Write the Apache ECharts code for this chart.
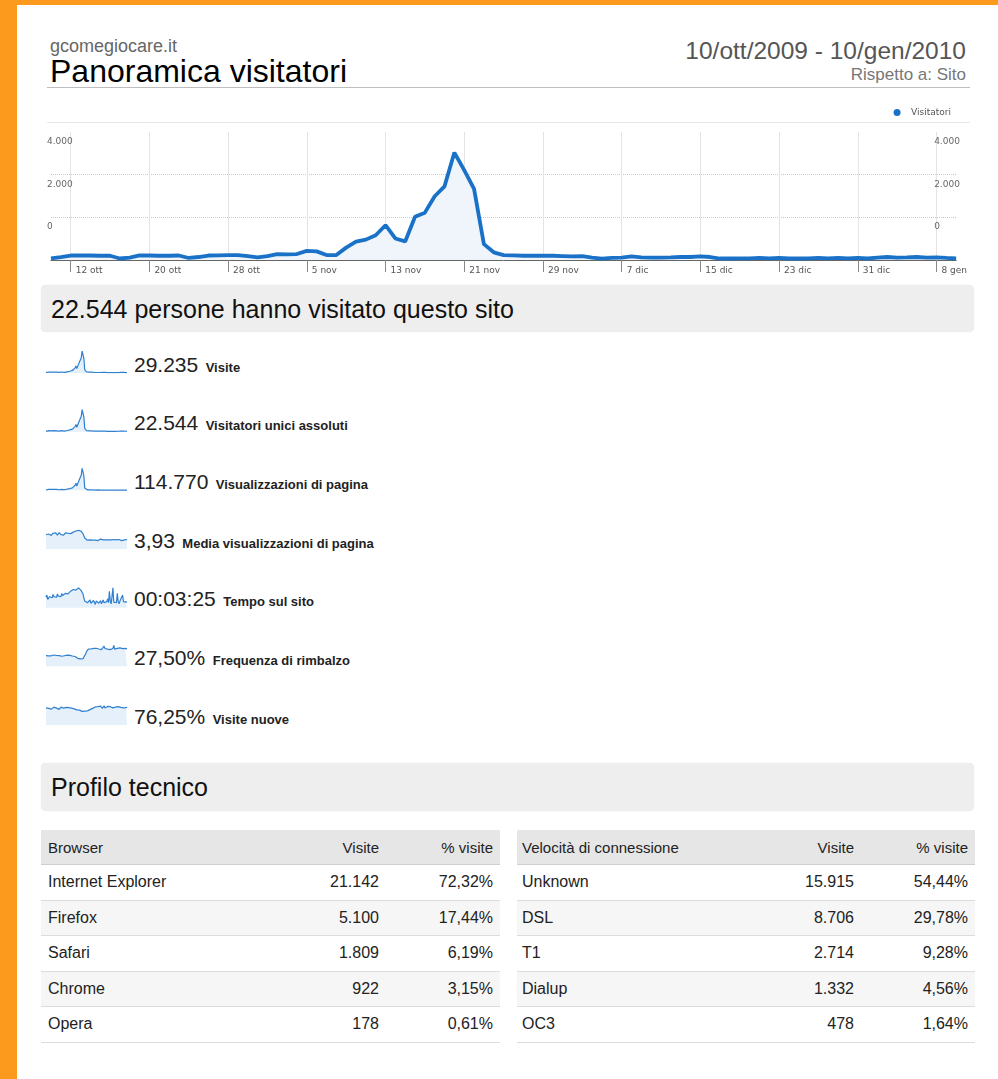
<!DOCTYPE html>
<html>
<head>
<meta charset="utf-8">
<title>Panoramica visitatori</title>
<script src="https://cdn.jsdelivr.net/npm/echarts@6/dist/echarts.min.js"></script>
<style>
  html, body { margin: 0; padding: 0; background: #fff; }
  body { width: 998px; height: 1079px; position: relative; overflow: hidden;
         font-family: "Liberation Sans", Arial, sans-serif; color: #222; }
  .abs { position: absolute; white-space: nowrap; z-index: 2; }
  .frameL { position: absolute; left: 0; top: 0; width: 17px; height: 1079px; background: #fb9a1c; }
  .frameT { position: absolute; left: 0; top: 0; width: 998px; height: 5px; background: #fb9a1c; }
  .bar { position: absolute; left: 41px; width: 933px; background: #eeeeee; border-radius: 5px;
         box-shadow: 0 0 1px #d8d8d8; z-index: 1; }
  .barText { position: absolute; left: 10px; font-size: 25px; line-height: 25px; color: #111; }
  .metric { position: absolute; left: 134px; line-height: 21px; white-space: nowrap; z-index: 2; }
  .metric .num { font-size: 21px; color: #222; }
  .metric .lab { font-size: 13px; font-weight: bold; color: #222; margin-left: 3px; }
  .tbl { position: absolute; top: 830px; z-index: 2; font-size: 16px; color: #222; }
  .row { position: relative; height: 35.5px; border-bottom: 1px solid #dcdcdc; box-sizing: border-box; }
  .row.head { height: 35px; background: #e6e6e6; border-bottom: 1px solid #cfcfcf; font-size: 15px; }
  .row.alt { background: #f6f6f6; }
  .row span { position: absolute; top: 50%; transform: translateY(-50%); }
  #main { position: absolute; left: 0; top: 0; width: 970px; height: 290px; z-index: 3; }
  #sparks { position: absolute; left: 0; top: 340px; width: 140px; height: 400px; z-index: 3; }
</style>
</head>
<body>
<div class="frameL"></div>
<div class="frameT"></div>

<div class="abs" style="left:50px; top:37px; font-size:18px; line-height:18px; color:#666;">gcomegiocare.it</div>
<div class="abs" style="left:50px; top:55px; font-size:32px; line-height:32px; color:#000;">Panoramica visitatori</div>
<div class="abs" style="right:32px; top:38px; font-size:24.5px; line-height:25px; color:#555;">10/ott/2009 - 10/gen/2010</div>
<div class="abs" style="right:32px; top:66px; font-size:17px; line-height:17px; color:#777;">Rispetto a: Sito</div>
<div class="abs" style="left:47px; top:87px; width:923px; height:0; border-top:1px solid #bdbdbd;"></div>
<div class="abs" style="left:47px; top:122px; width:923px; height:0; border-top:1px solid #e8e8e8;"></div>

<div class="bar" style="top:285px; height:47px;"><div class="barText" style="top:12px;">22.544 persone hanno visitato questo sito</div></div>
<div class="bar" style="top:763px; height:48px;"><div class="barText" style="top:12px;">Profilo tecnico</div></div>

<div id="metrics"></div>
<div id="tables"></div>

<div id="main"></div>
<div id="sparks"></div>

<script type="text/javascript">
// --- dati ---
var xTickLabels = ['12 ott', '20 ott', '28 ott', '5 nov', '13 nov', '21 nov', '29 nov', '7 dic', '15 dic', '23 dic', '31 dic', '8 gen'];
var yTickLabels = ['', '0', '2.000', '4.000'];   // etichette mostrate sulle righe 0 / 2000 / 4000 / 6000

// visitatori giornalieri 10 ott 2009 - 10 gen 2010
var visitatori = [80, 140, 210, 220, 210, 200, 200, 70, 115, 220,
    210, 200, 200, 210, 95, 140, 210, 220, 230, 230,
    185, 125, 185, 280, 265, 280, 430, 405, 230, 230,
    580, 860, 955, 1160, 1630, 1010, 870, 2030, 2220, 2990,
    3455, 5035, 4210, 3335, 745, 360, 230, 220, 200, 200,
    200, 200, 185, 170, 185, 115, 60, 95, 115, 165,
    125, 115, 115, 125, 140, 140, 170, 140, 70, 70,
    80, 80, 95, 80, 95, 70, 70, 80, 95, 80,
    95, 80, 95, 70, 115, 140, 115, 125, 140, 115,
    125, 95, 70];

var visite = [110, 180, 270, 290, 280, 260, 250, 95, 150, 290,
    280, 265, 260, 275, 125, 185, 275, 290, 300, 305,
    240, 165, 245, 370, 350, 365, 560, 530, 300, 300,
    760, 1120, 1240, 1510, 2120, 1320, 1140, 2640, 2890, 3890,
    4490, 6550, 5470, 4340, 970, 470, 300, 285, 260, 260,
    260, 260, 240, 220, 240, 150, 80, 125, 150, 215,
    165, 150, 150, 165, 180, 180, 220, 180, 90, 90,
    105, 105, 125, 105, 125, 90, 90, 105, 125, 105,
    125, 105, 125, 90, 150, 180, 150, 165, 180, 150,
    165, 125, 90];

var pagine = [520, 860, 1300, 1380, 1290, 1240, 1220, 430, 700, 1350,
    1310, 1250, 1230, 1300, 590, 870, 1300, 1360, 1410, 1400,
    1140, 780, 1150, 1720, 1620, 1730, 2650, 2490, 1410, 1420,
    3550, 5300, 5900, 7150, 10000, 6200, 5350, 12500, 13700, 18400,
    21300, 31000, 25900, 20500, 3200, 1300, 760, 720, 660, 660,
    660, 650, 610, 560, 600, 380, 200, 310, 380, 540,
    410, 380, 380, 410, 460, 460, 560, 460, 230, 230,
    260, 260, 310, 260, 310, 230, 230, 260, 310, 260,
    310, 260, 310, 230, 380, 460, 380, 410, 460, 380,
    410, 310, 230];

var mediaPagine = [3.9, 4.2, 3.8, 4.1, 4.4, 3.9, 3.7, 4.0, 4.3, 3.8,
    4.1, 4.4, 4.0, 3.8, 4.2, 4.5, 4.1, 3.9, 4.3, 4.0,
    3.8, 4.2, 4.4, 4.1, 4.5, 4.3, 4.6, 4.4, 4.2,
    4.5, 4.7, 4.6, 4.8, 4.7, 4.9, 5.0, 4.8, 5.1, 4.9, 5.0, 4.8, 4.6, 4.2,
    3.6, 3.0, 2.6, 2.5, 2.4, 2.5,
    2.4, 2.5, 2.3, 2.6, 2.4, 2.5, 2.3, 2.4, 2.6, 2.5,
    2.3, 2.4, 2.5, 2.7, 2.4, 2.3, 2.5, 2.4, 2.6, 2.5,
    2.4, 2.3, 2.5, 2.6, 2.4, 2.5, 2.3, 2.4, 2.6, 2.5,
    2.4, 2.5, 2.3, 2.4, 2.6, 2.5, 2.4, 2.3, 2.5, 2.6,
    2.5, 2.7, 2.8, 2.6];

var tempoSito = [190, 230, 150, 120, 200, 170, 210, 180, 240, 200,
    170, 220, 190, 250, 210, 180, 230, 200, 260, 220,
    240, 210, 260, 230, 270, 250, 280, 260, 300,
    310, 290, 330, 300, 340, 320, 350, 330, 360, 340, 330, 310, 290,
    250, 180, 120, 100, 110, 90,
    120, 90, 140, 80, 110, 70, 130, 100, 60, 120,
    90, 150, 80, 110, 130, 70, 100, 140, 90, 120,
    80, 110, 160, 90, 300, 120, 70, 200, 360, 100,
    80, 130, 90, 260, 110, 70, 120, 150, 90, 230,
    110, 80, 130, 100, 110];

var rimbalzo = [19.5, 18.2, 20.1, 19.0, 18.6, 20.4, 19.2, 18.0, 19.8, 20.6,
    19.1, 18.4, 19.7, 20.2, 18.8, 19.4, 20.8, 19.0, 18.3, 19.9,
    20.5, 19.3, 18.7, 19.6, 20.3, 18.9, 19.2, 20.0, 18.5, 19.4,
    18.8, 19.5, 18.2, 17.9, 17.2,
    15.8, 14.6, 13.9, 14.2, 13.5, 13.8, 14.4, 14.0, 13.7,
    16.2, 22.5, 26.8, 29.5, 31.2, 30.4, 32.0,
    31.5, 33.2, 30.8, 32.6, 34.1, 31.0, 32.9, 30.2, 33.8, 31.6,
    35.0, 32.1, 30.5, 33.4, 31.9, 36.8, 32.4, 30.9, 33.1, 31.3,
    34.6, 32.0, 30.4, 33.7, 31.8, 32.5, 37.9, 31.2, 33.0, 30.6,
    32.8, 34.3, 31.4, 33.6, 30.8, 35.4, 32.2, 31.0, 33.9, 32.6,
    30.9, 31.8];

var visiteNuove = [70, 66, 72, 68, 74, 69, 65, 71, 67, 73,
    70, 66, 69, 72, 68, 64, 70, 73, 67, 71,
    69, 65, 68, 72, 70, 66, 71, 68, 64, 69,
    67, 70, 66, 63, 65,
    62, 60, 58, 61, 57, 59, 56, 58, 55, 57, 60, 56, 58, 61, 59, 63, 60, 64,
    68, 72, 66, 74, 70, 67, 75, 71, 69, 77,
    72, 68, 74, 79, 70, 73, 67, 76, 71, 69,
    75, 72, 78, 70, 74, 68, 73, 77, 71, 75,
    69, 76, 72, 74, 79, 70, 73, 76, 71, 74];

var metricValues = ['29.235', '22.544', '114.770', '3,93', '00:03:25', '27,50%', '76,25%'];
var metricLabels = ['Visite', 'Visitatori unici assoluti', 'Visualizzazioni di pagina',
    'Media visualizzazioni di pagina', 'Tempo sul sito', 'Frequenza di rimbalzo', 'Visite nuove'];

var browsers = ['Internet Explorer', 'Firefox', 'Safari', 'Chrome', 'Opera'];
var browserVisite = ['21.142', '5.100', '1.809', '922', '178'];
var browserPerc = ['72,32%', '17,44%', '6,19%', '3,15%', '0,61%'];

var connessioni = ['Unknown', 'DSL', 'T1', 'Dialup', 'OC3'];
var connVisite = ['15.915', '8.706', '2.714', '1.332', '478'];
var connPerc = ['54,44%', '29,78%', '9,28%', '4,56%', '1,64%'];

// categorie giornaliere
var mesi = [['ott', 10, 31], ['nov', 1, 30], ['dic', 1, 31], ['gen', 1, 10]];
var giorni = [];
mesi.forEach(function (m) {
    for (var d = m[1]; d <= m[2]; d++) giorni.push(d + ' ' + m[0]);
});

// --- righe delle metriche ---
var metricsHtml = '';
for (var i = 0; i < metricValues.length; i++) {
    var c = 364 + i * 58.67;
    metricsHtml += '<div class="metric" style="top:' + (c - 10.5) + 'px"><span class="num">' + metricValues[i] +
        '</span> <span class="lab">' + metricLabels[i] + '</span></div>';
}
document.getElementById('metrics').innerHTML = metricsHtml;

// --- tabelle ---
function tabella(left, width, padL, titolo, nomi, vis, perc) {
    var h = '<div class="tbl" style="left:' + left + 'px; width:' + width + 'px">';
    h += '<div class="row head"><span style="left:' + padL + 'px">' + titolo + '</span>' +
        '<span style="right:121px">Visite</span><span style="right:7px">% visite</span></div>';
    for (var k = 0; k < nomi.length; k++) {
        h += '<div class="row' + (k % 2 ? ' alt' : '') + '"><span style="left:' + padL + 'px">' + nomi[k] + '</span>' +
            '<span style="right:121px">' + vis[k] + '</span><span style="right:7px">' + perc[k] + '</span></div>';
    }
    return h + '</div>';
}
document.getElementById('tables').innerHTML =
    tabella(41, 459, 7, 'Browser', browsers, browserVisite, browserPerc) +
    tabella(517, 458, 5, 'Velocità di connessione', connessioni, connVisite, connPerc);

// --- grafico principale ---
var tickOk = function (idx) { return (idx - 2) % 8 === 0; };
var chartFont = 'DejaVu Sans';

var myChart = echarts.init(document.getElementById('main'));
myChart.setOption({
    animation: false,
    legend: {
        data: ['Visitatori'],
        right: 19,
        top: 108,
        padding: 0,
        icon: 'circle',
        itemWidth: 18,
        itemHeight: 7,
        textStyle: { fontFamily: chartFont, fontSize: 9, color: '#555' }
    },
    grid: { left: 51, top: 132, width: 915, height: 128, containLabel: false },
    xAxis: {
        type: 'category',
        data: giorni,
        boundaryGap: false,
        axisLine: { lineStyle: { color: '#666', width: 1 } },
        axisTick: { show: true, interval: tickOk, length: 12, lineStyle: { color: '#888' } },
        axisLabel: { interval: tickOk, align: 'left', margin: 6, padding: [0, 0, 0, 5],
            fontFamily: chartFont, fontSize: 9, color: '#555',
            formatter: function (v, idx) { return xTickLabels[(idx - 2) / 8]; } },
        splitLine: { show: true, interval: tickOk, lineStyle: { color: '#e4e4e4' } }
    },
    yAxis: [{
        type: 'value', min: 0, max: 6000, interval: 2000,
        axisLine: { show: false }, axisTick: { show: false },
        axisLabel: { inside: true, align: 'left', margin: -4, verticalAlign: 'top', padding: [5, 0, 0, 0],
            fontFamily: chartFont, fontSize: 9, color: '#666',
            formatter: function (v) { return yTickLabels[v / 2000]; } },
        splitLine: { show: true, showMinLine: false, showMaxLine: false,
            lineStyle: { type: 'dotted', color: '#c8c8c8' } }
    }, {
        type: 'value', position: 'right', min: 0, max: 6000, interval: 2000,
        axisLine: { show: false }, axisTick: { show: false },
        axisLabel: { inside: true, align: 'left', margin: 22, verticalAlign: 'top', padding: [5, 0, 0, 0],
            fontFamily: chartFont, fontSize: 9, color: '#666',
            formatter: function (v) { return yTickLabels[v / 2000]; } },
        splitLine: { show: false }
    }],
    series: [{
        name: 'Visitatori',
        type: 'line',
        data: visitatori,
        symbol: 'none',
        itemStyle: { color: '#1a72c8' },
        lineStyle: { color: '#1a72c8', width: 3.8 },
        areaStyle: { color: '#eff5fb', opacity: 1 }
    }]
});

// --- sparkline ---
var sparkData = [visite, visitatori, pagine, mediaPagine, tempoSito, rimbalzo, visiteNuove];
var sparkMax = ['dataMax', 'dataMax', 'dataMax', 6, 400, 40, 90];
var grids = [], xs = [], ys = [], ser = [];
sparkData.forEach(function (d, i) {
    var c = 364 + i * 58.67 - 340;
    grids.push({ left: 46, width: 81, top: c - 13, height: 22 });
    xs.push({ type: 'category', gridIndex: i, data: giorni, boundaryGap: false, show: false });
    ys.push({ type: 'value', gridIndex: i, min: 0, max: sparkMax[i], show: false });
    ser.push({
        type: 'line', xAxisIndex: i, yAxisIndex: i, data: d, symbol: 'none',
        lineStyle: { color: '#2f80d1', width: 1.2 },
        areaStyle: { color: '#e6f0fa', opacity: 1 }
    });
});
var sparkChart = echarts.init(document.getElementById('sparks'));
sparkChart.setOption({ animation: false, grid: grids, xAxis: xs, yAxis: ys, series: ser });
</script>
</body>
</html>
